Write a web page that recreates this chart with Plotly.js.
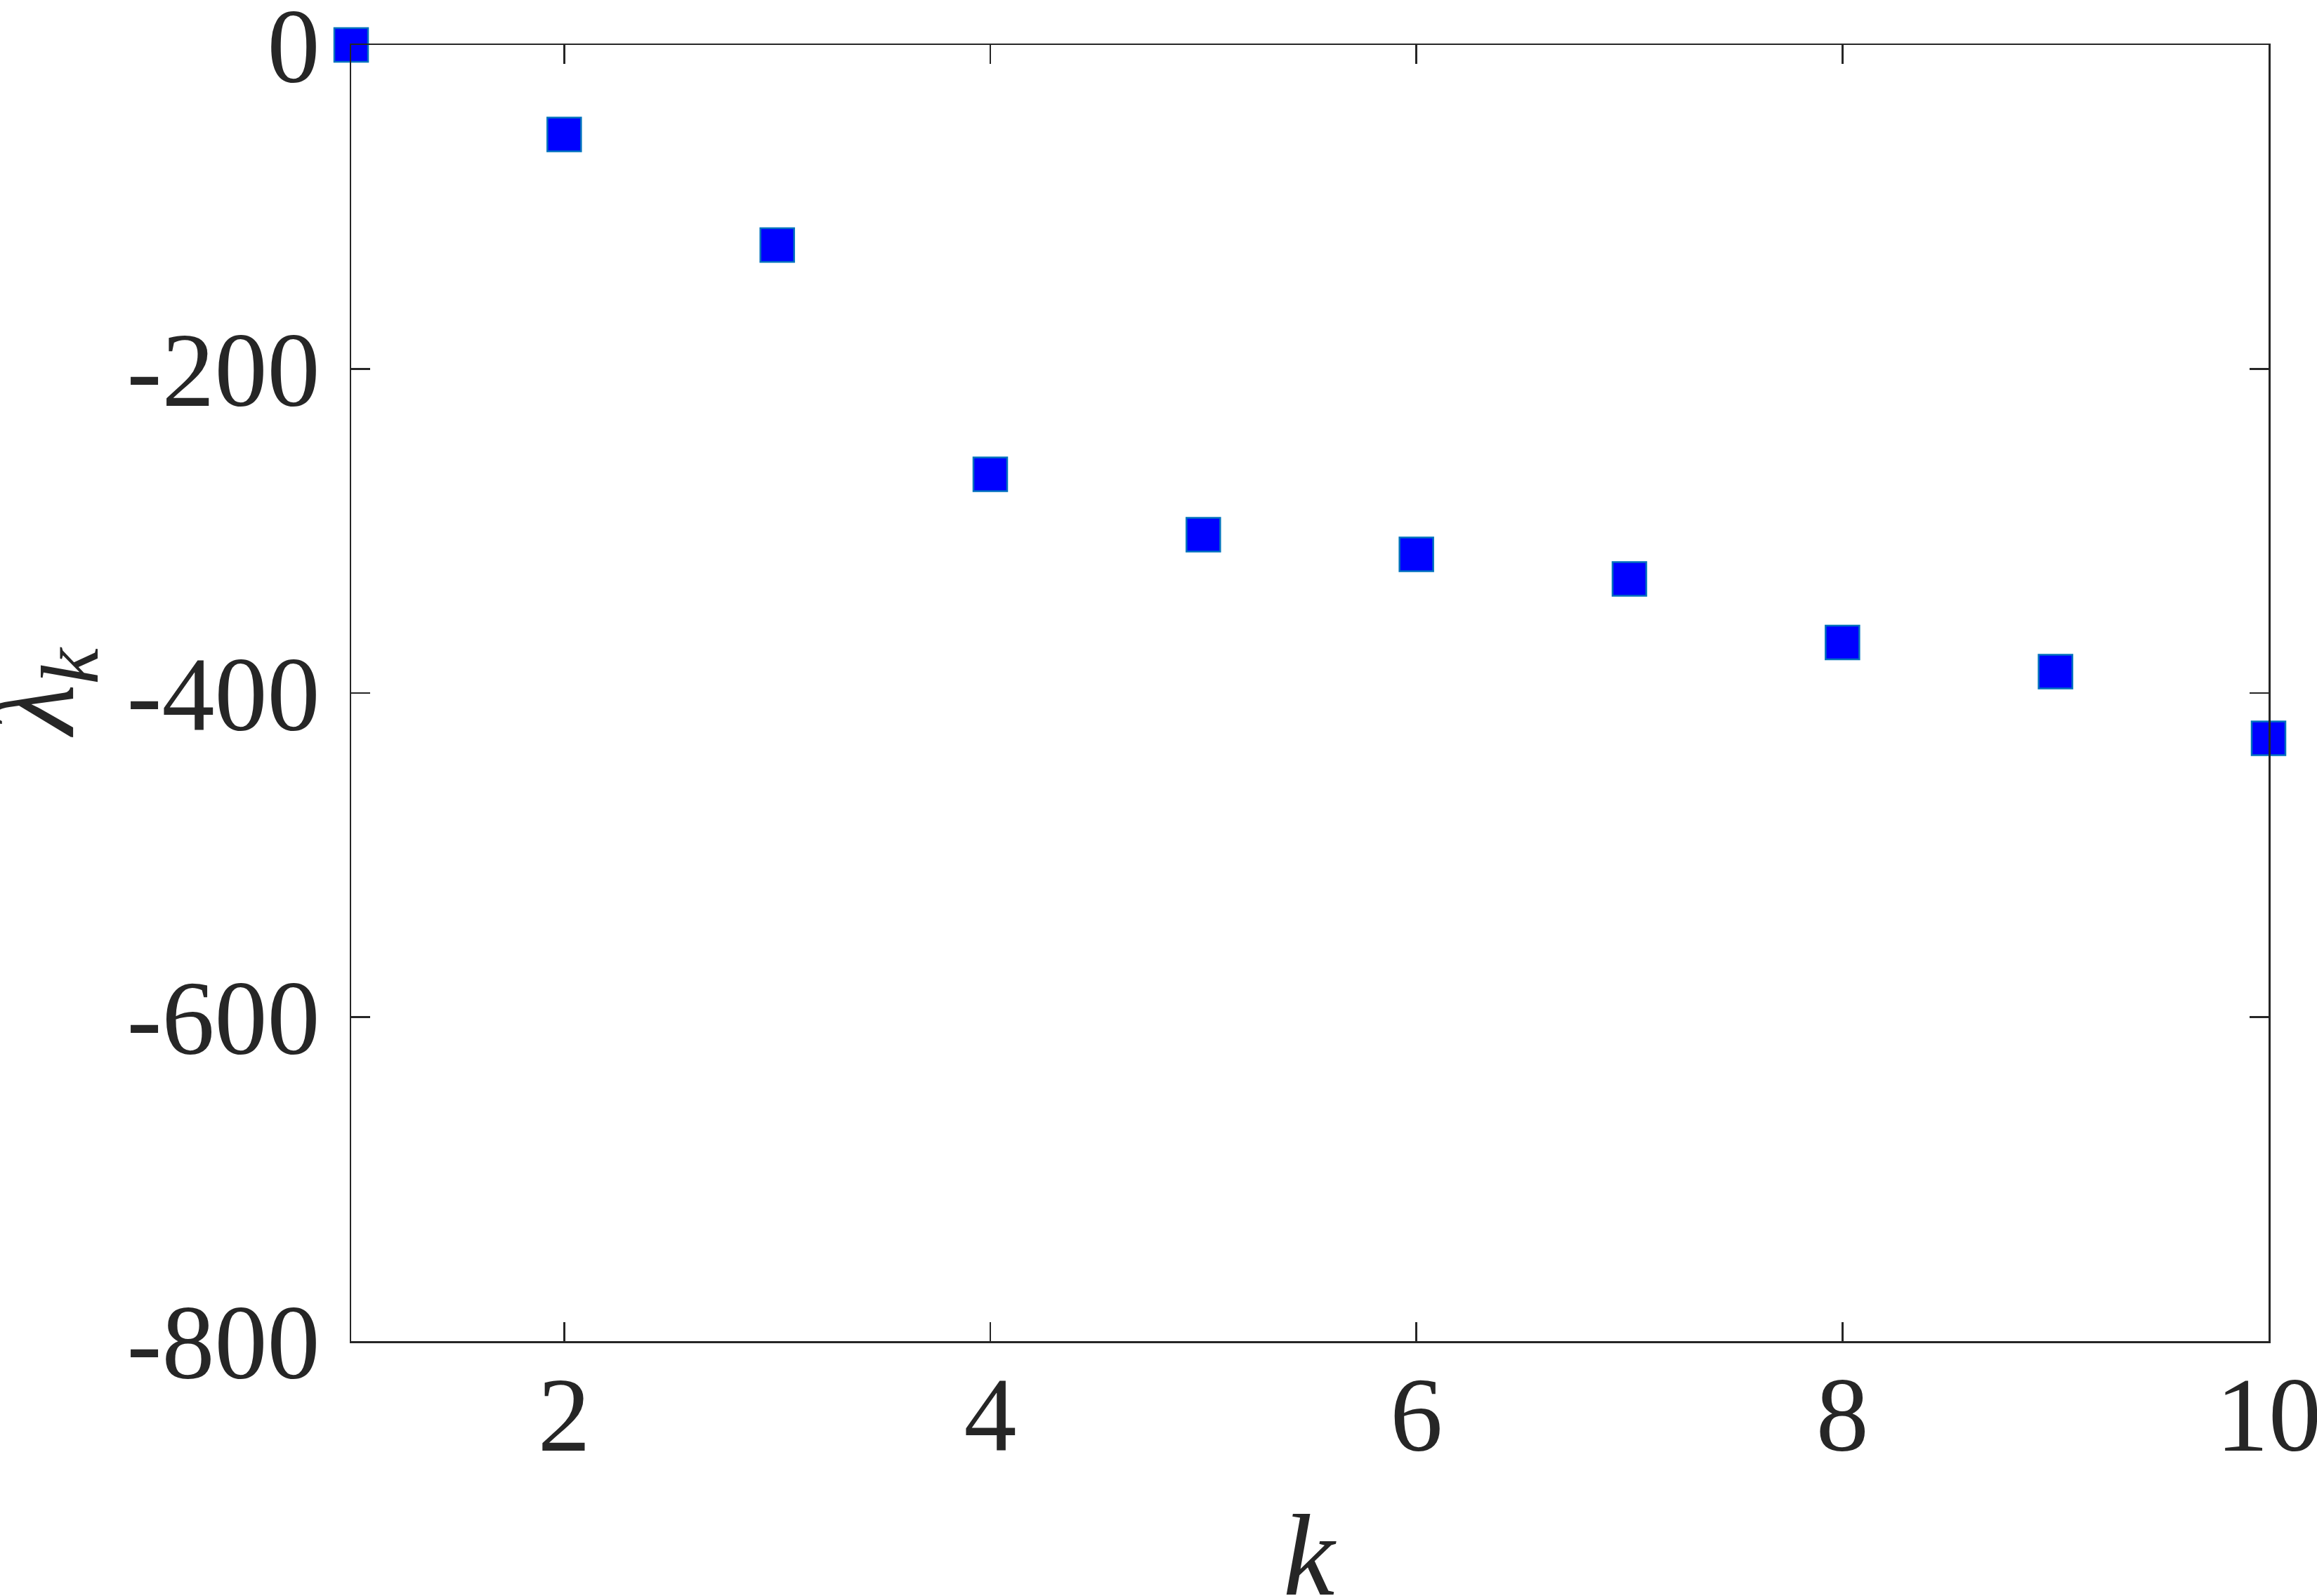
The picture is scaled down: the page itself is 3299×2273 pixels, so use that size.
<!DOCTYPE html>
<html>
<head>
<meta charset="utf-8">
<script src="https://cdn.plot.ly/plotly-3.0.1.min.js"></script>
<style>
  html, body { margin: 0; padding: 0; background: #ffffff; }
  #chart { width: 3299px; height: 2273px; }
</style>
</head>
<body>
<div id="chart"></div>
<script>
// Data
const kValues = [1, 2, 3, 4, 5, 6, 7, 8, 9, 10];
const lambdaValues = [0, -55.3, -123.5, -265.0, -302.3, -314.4, -329.6, -368.8, -386.8, -427.9];

// Tick values and labels
const xTickVals = [2, 4, 6, 8, 10];
const xTickText = ['2', '4', '6', '8', '10'];
const yTickVals = [0, -200, -400, -600, -800];
const yTickText = ['0', '-200', '-400', '-600', '-800'];

// Axis titles
const xTitle = '<i>k</i>';
const yTitle = '<i>λ</i><sub><i>k</i></sub>';

const axisColor = '#262626';
const fontFamily = 'Liberation Serif';

const trace = {
  x: kValues,
  y: lambdaValues,
  type: 'scatter',
  mode: 'markers',
  cliponaxis: false,
  marker: {
    symbol: 'square',
    size: 48,
    color: '#0000FF',
    line: { color: '#0072BD', width: 2.5 }
  },
  showlegend: false,
  hoverinfo: 'x+y'
};

const layout = {
  width: 3299,
  height: 2273,
  paper_bgcolor: '#ffffff',
  plot_bgcolor: '#ffffff',
  margin: { l: 500, r: 69, t: 64, b: 363, pad: 0 },
  font: { family: fontFamily, color: axisColor, size: 150 },
  showlegend: false,
  xaxis: {
    range: [1, 10],
    tickmode: 'array',
    tickvals: xTickVals,
    ticktext: xTickText,
    ticks: 'inside',
    ticklen: 27,
    tickwidth: 2.5,
    tickcolor: axisColor,
    showline: true,
    linecolor: axisColor,
    linewidth: 2.5,
    mirror: 'ticks',
    showgrid: false,
    zeroline: false,
    automargin: false,
    ticklabeloverflow: 'allow',
    ticklabelstandoff: -27,
    tickfont: { family: fontFamily, size: 150, color: axisColor }
  },
  yaxis: {
    range: [-800, 0],
    tickmode: 'array',
    tickvals: yTickVals,
    ticktext: yTickText,
    ticks: 'inside',
    ticklen: 27,
    tickwidth: 2.5,
    tickcolor: axisColor,
    showline: true,
    linecolor: axisColor,
    linewidth: 2.5,
    mirror: 'ticks',
    showgrid: false,
    zeroline: false,
    automargin: false,
    ticklabeloverflow: 'allow',
    ticklabelstandoff: 12,
    tickfont: { family: fontFamily, size: 150, color: axisColor }
  },
  annotations: [
    {
      text: xTitle,
      xref: 'paper', yref: 'paper',
      x: 0.5, y: 0,
      xanchor: 'center', yanchor: 'top',
      yshift: -212,
      showarrow: false,
      font: { family: fontFamily, size: 165, color: axisColor }
    },
    {
      text: yTitle,
      xref: 'paper', yref: 'paper',
      x: 0, y: 0.5,
      xanchor: 'center', yanchor: 'middle',
      xshift: -440,
      textangle: -90,
      showarrow: false,
      font: { family: fontFamily, size: 165, color: axisColor }
    }
  ]
};

Plotly.newPlot('chart', [trace], layout, { staticPlot: true, displayModeBar: false });
</script>
</body>
</html>
